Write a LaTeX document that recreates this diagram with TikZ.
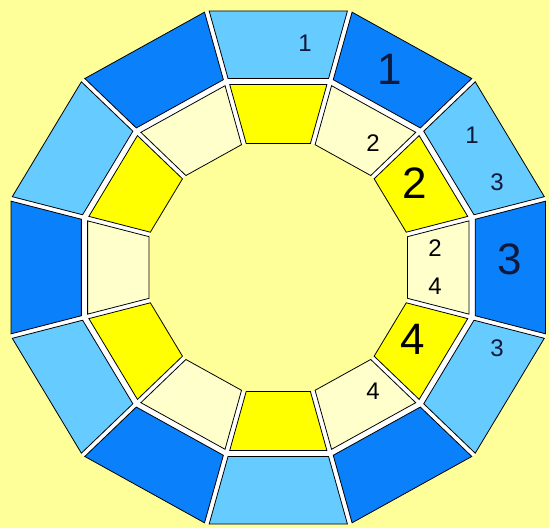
\documentclass[tikz,border=0pt]{standalone}
\usepackage{fontspec}
\setmainfont{Liberation Sans}
\usetikzlibrary{calc}
\definecolor{bgyellow}{RGB}{255,255,153}
\definecolor{darkblue}{RGB}{10,128,250}
\definecolor{lightblue}{RGB}{102,204,255}
\definecolor{brightyellow}{RGB}{255,255,0}
\definecolor{cream}{RGB}{255,255,204}
\definecolor{labelnavy}{RGB}{15,25,60}
\newcommand\gapS{2.4}
\newcommand\ringpiece[4]{%
  \path[piece, fill=#4]
    ($(#1-15:#2)+(#1+90:\gapS)$) -- ($(#1-15:#3)+(#1+90:\gapS)$) --
    ($(#1+15:#3)+(#1-90:\gapS)$) -- ($(#1+15:#2)+(#1-90:\gapS)$) -- cycle;}
\tikzset{
  piece/.style={draw=black, line width=0.8pt, line join=miter},
  smalllbl/.style={font=\fontsize{24}{24}\selectfont, inner sep=0pt},
  biglbl/.style={font=\fontsize{44}{44}\selectfont, inner sep=0pt},
}
\begin{document}
\begin{tikzpicture}[x=1pt,y=1pt]
\useasboundingbox (0,0) rectangle (549,528);
\fill[bgyellow] (0,0) rectangle (549,528);
\begin{scope}[shift={(278.3,260.5)}, xscale=1.042]
  % white ring underneath (gaps)
  \fill[white, even odd rule]
    (15:265.55) -- (45:265.55) -- (75:265.55) -- (105:265.55) -- (135:265.55) -- (165:265.55) --
    (195:265.55) -- (225:265.55) -- (255:265.55) -- (285:265.55) -- (315:265.55) -- (345:265.55) -- cycle
    (15:128.37) -- (45:128.37) -- (75:128.37) -- (105:128.37) -- (135:128.37) -- (165:128.37) --
    (195:128.37) -- (225:128.37) -- (255:128.37) -- (285:128.37) -- (315:128.37) -- (345:128.37) -- cycle;
  % outer ring
  \foreach \t in {0,60,120,180,240,300} {\ringpiece{\t}{195.67}{265.55}{darkblue}}
  \foreach \t in {30,90,150,210,270,330} {\ringpiece{\t}{195.67}{265.55}{lightblue}}
  % inner ring
  \foreach \t in {0,60,120,180,240,300} {\ringpiece{\t}{128.37}{189.46}{cream}}
  \foreach \t in {30,90,150,210,270,330} {\ringpiece{\t}{128.37}{189.46}{brightyellow}}
\end{scope}
% labels
\node[smalllbl, text=labelnavy] (t1) at (305,485) {1};
\node[biglbl, text=labelnavy] (d1) at (390,459) {1};
\node[smalllbl, text=labelnavy] (l1) at (472,393) {1};
\node[smalllbl, text=labelnavy] (l3) at (497,346) {3};
\node[biglbl, text=labelnavy] (d3) at (510,269) {3};
\node[smalllbl, text=labelnavy] (m3) at (497,180) {3};
\node[smalllbl] (c2) at (373,385) {2};
\node[biglbl] (y2) at (415,345) {2};
\node[smalllbl] (e2) at (435,280) {2};
\node[smalllbl] (e4) at (435,242) {4};
\node[biglbl] (y4) at (413,189) {4};
\node[smalllbl] (c4) at (373,137) {4};
\end{tikzpicture}
\end{document}
